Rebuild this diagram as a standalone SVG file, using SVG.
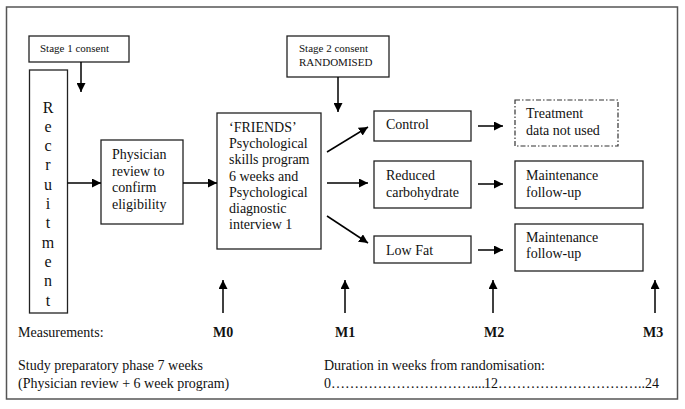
<svg xmlns="http://www.w3.org/2000/svg" width="685" height="409" viewBox="0 0 685 409">
<defs>
<style>
.box{fill:#fff;stroke:#222;stroke-width:1.3}
.t{font-family:"Liberation Serif","Times New Roman",serif;font-size:14px;fill:#111}
.s{font-family:"Liberation Serif","Times New Roman",serif;font-size:11px;fill:#111}
.b{font-family:"Liberation Serif","Times New Roman",serif;font-size:14px;font-weight:bold;fill:#111}
.r{font-family:"Liberation Serif","Times New Roman",serif;font-size:16px;fill:#111;text-anchor:middle}
.c{stroke:#000;stroke-width:1.5;fill:none;marker-end:url(#ah)}
</style>
<marker id="ah" viewBox="0 0 10 10" refX="10" refY="5" markerWidth="6" markerHeight="6" markerUnits="strokeWidth" orient="auto">
<path d="M0,0 L10,5 L0,10 z" fill="#000"/>
</marker>
</defs>
<rect width="685" height="409" fill="#fff"/>
<rect x="6.5" y="7" width="671" height="392" fill="none" stroke="#555" stroke-width="1.5"/>

<g id="stage1">
<rect class="box" x="29" y="36" width="100" height="26"/>
<text class="s" x="40" y="52">Stage 1 consent</text>
</g>
<g id="recruitment">
<rect class="box" x="29.5" y="70" width="38" height="243"/>
<text class="r" x="48" y="113">R</text>
<text class="r" x="48" y="132">e</text>
<text class="r" x="48" y="151">c</text>
<text class="r" x="48" y="170">r</text>
<text class="r" x="48" y="190">u</text>
<text class="r" x="48" y="209">i</text>
<text class="r" x="48" y="228">t</text>
<text class="r" x="48" y="248">m</text>
<text class="r" x="48" y="267">e</text>
<text class="r" x="48" y="286">n</text>
<text class="r" x="48" y="306">t</text>
</g>
<g id="physician">
<rect class="box" x="101" y="140" width="82" height="84"/>
<text class="t" x="112" y="159">Physician</text>
<text class="t" x="112" y="176">review to</text>
<text class="t" x="112" y="192">confirm</text>
<text class="t" x="112" y="209">eligibility</text>
</g>
<g id="stage2">
<rect class="box" x="287" y="36" width="102" height="41"/>
<text class="s" x="299" y="52">Stage 2 consent</text>
<text class="s" x="299" y="66">RANDOMISED</text>
</g>
<g id="friends">
<rect class="box" x="217" y="113" width="104" height="136"/>
<text class="t" x="229" y="132">‘FRIENDS’</text>
<text class="t" x="229" y="148">Psychological</text>
<text class="t" x="229" y="164">skills program</text>
<text class="t" x="229" y="181">6 weeks and</text>
<text class="t" x="229" y="197">Psychological</text>
<text class="t" x="229" y="213">diagnostic</text>
<text class="t" x="229" y="229">interview 1</text>
</g>
<g id="control">
<rect class="box" x="374" y="111" width="97" height="30"/>
<text class="t" x="386" y="129">Control</text>
</g>
<g id="reduced">
<rect class="box" x="374" y="161" width="97" height="47"/>
<text class="t" x="386" y="180">Reduced</text>
<text class="t" x="386" y="197">carbohydrate</text>
</g>
<g id="lowfat">
<rect class="box" x="374" y="236" width="97" height="27"/>
<text class="t" x="386" y="255">Low Fat</text>
</g>
<g id="treatment">
<rect x="515" y="100" width="103" height="46" fill="#fff" stroke="#333" stroke-width="1.2" stroke-dasharray="5,2,1.5,2"/>
<text class="t" x="526" y="118">Treatment</text>
<text class="t" x="526" y="135">data not used</text>
</g>
<g id="maint1">
<rect class="box" x="515" y="161" width="128" height="47"/>
<text class="t" x="526" y="180">Maintenance</text>
<text class="t" x="526" y="197">follow-up</text>
</g>
<g id="maint2">
<rect class="box" x="515" y="224" width="128" height="47"/>
<text class="t" x="526" y="242">Maintenance</text>
<text class="t" x="526" y="258">follow-up</text>
</g>

<g id="connectors">
<line class="c" x1="81" y1="62" x2="81" y2="92"/>
<line class="c" x1="338" y1="77" x2="338" y2="112"/>
<line class="c" x1="67.5" y1="183" x2="101" y2="183"/>
<line class="c" x1="183" y1="183" x2="217" y2="183"/>
<line class="c" x1="327" y1="152" x2="368" y2="127"/>
<line class="c" x1="327" y1="183" x2="368" y2="183"/>
<line class="c" x1="327" y1="216" x2="368" y2="243"/>
<line class="c" x1="478" y1="126" x2="503" y2="126"/>
<line class="c" x1="478" y1="184" x2="503" y2="184"/>
<line class="c" x1="478" y1="250" x2="503" y2="250"/>
<line class="c" x1="223" y1="313" x2="223" y2="280"/>
<line class="c" x1="345" y1="313" x2="345" y2="280"/>
<line class="c" x1="493" y1="313" x2="493" y2="280"/>
<line class="c" x1="655" y1="313" x2="655" y2="280"/>
</g>

<g id="labels">
<text class="t" x="18" y="337">Measurements:</text>
<text class="b" x="213" y="337">M0</text>
<text class="b" x="335" y="337">M1</text>
<text class="b" x="484" y="337">M2</text>
<text class="b" x="643" y="337">M3</text>
<text class="t" x="18" y="370">Study preparatory phase 7 weeks</text>
<text class="t" x="18" y="388">(Physician review + 6 week program)</text>
<text class="t" x="324" y="370">Duration in weeks from randomisation:</text>
<text class="t" x="324" y="388">0&#8230;&#8230;&#8230;&#8230;&#8230;&#8230;&#8230;&#8230;&#8230;&#8230;....<tspan x="484">12&#8230;&#8230;&#8230;&#8230;&#8230;&#8230;&#8230;&#8230;&#8230;&#8230;..24</tspan></text>
</g>
</svg>
